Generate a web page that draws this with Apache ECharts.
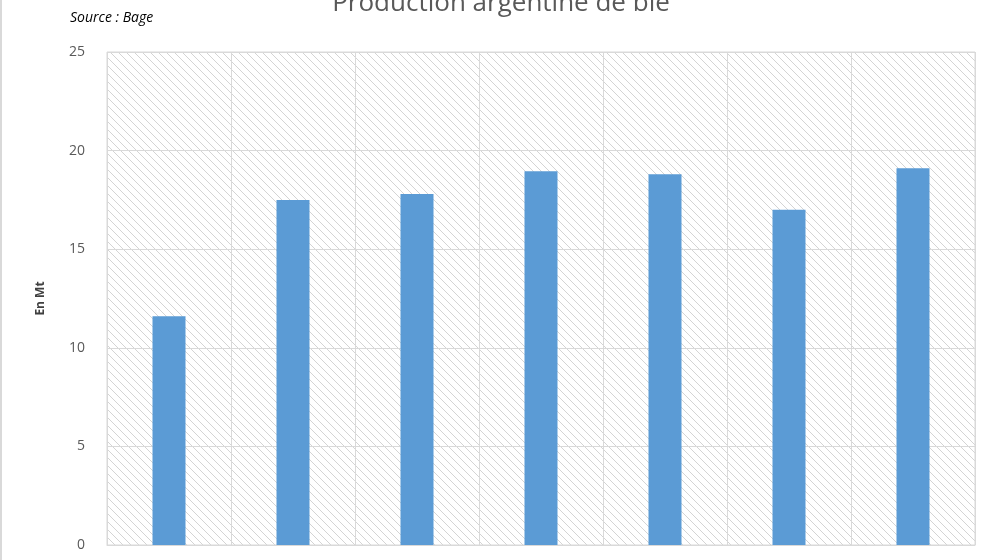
<!DOCTYPE html>
<html><head><meta charset="utf-8">
<script src="https://cdn.jsdelivr.net/npm/echarts@6/dist/echarts.min.js"></script>
<style>body{margin:0;background:#fff}#c{width:1000px;height:560px;border-left:2px solid #d9d9d9;box-sizing:border-box}</style>
</head><body><div id="c"></div>
<script>
// campagnes (étiquettes hors cadre dans la référence)
const categories = ['2011/12', '2012/13', '2013/14', '2014/15', '2015/16', '2016/17', '2017/18'];
const production = [11.6, 17.5, 17.8, 18.95, 18.8, 17.0, 19.1];
const yTicks = { min: 0, max: 25, interval: 5 };

// motif hachuré du fond
const pc = document.createElement('canvas');
pc.width = 8; pc.height = 8;
const g = pc.getContext('2d');
g.fillStyle = '#fff'; g.fillRect(0, 0, 8, 8);
g.strokeStyle = '#d4d4d4'; g.lineWidth = 1;
g.beginPath();
g.moveTo(0, 0); g.lineTo(8, 8);
g.moveTo(-4, 4); g.lineTo(4, 12);
g.moveTo(4, -4); g.lineTo(12, 4);
g.stroke();

var myChart = echarts.init(document.getElementById('c'));
var option = {
    animation: false,
    title: [
        { text: 'Production argentine de blé', left: 'center', top: -14,
          textStyle: { fontFamily: 'Open Sans', fontSize: 26, fontWeight: 'normal', color: '#595959' } },
        { text: 'Source : Bage', left: 63, top: 6,
          textStyle: { fontFamily: 'Open Sans', fontSize: 14, fontStyle: 'italic', fontWeight: 'normal', color: '#000' } }
    ],
    grid: { left: 105, right: 25, top: 52, bottom: 15, show: true,
            backgroundColor: { image: pc, repeat: 'repeat' }, borderColor: '#d9d9d9', borderWidth: 1 },
    xAxis: {
        type: 'category', data: categories,
        axisLine: { lineStyle: { color: '#d9d9d9' } }, axisTick: { show: false },
        axisLabel: { show: false },
        splitLine: { show: true, lineStyle: { color: '#d9d9d9' } }
    },
    yAxis: {
        type: 'value', min: yTicks.min, max: yTicks.max, interval: yTicks.interval,
        name: 'En Mt', nameLocation: 'middle', nameGap: 60,
        nameTextStyle: { fontFamily: 'Open Sans', fontSize: 12, fontWeight: 'bold', color: '#404040' },
        axisLine: { show: false }, axisTick: { show: false },
        axisLabel: { fontFamily: 'Open Sans', fontSize: 14, color: '#595959', margin: 22 },
        splitLine: { lineStyle: { color: '#d9d9d9' } }
    },
    series: [{
        type: 'bar', data: production, barWidth: 33,
        itemStyle: { color: '#5b9bd5' }
    }]
};
option && myChart.setOption(option);
</script></body></html>
